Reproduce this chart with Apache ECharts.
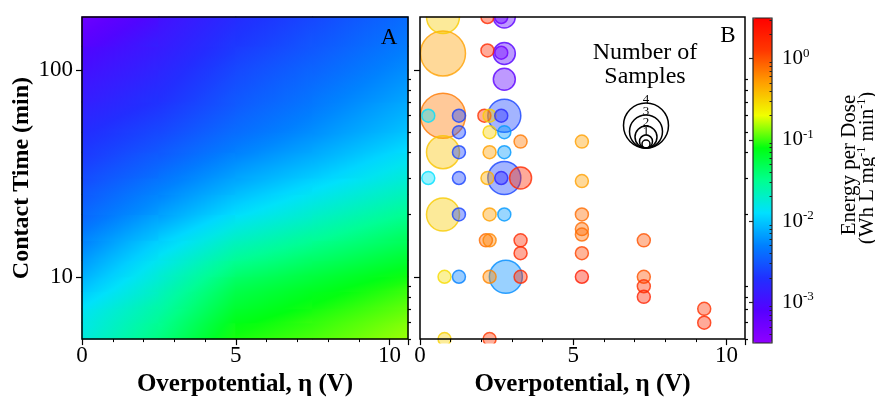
<!DOCTYPE html>
<html>
<head>
<meta charset="utf-8">
<script src="https://cdn.jsdelivr.net/npm/echarts@6/dist/echarts.min.js"></script>
</head>
<body style="margin:0">
<div id="main" style="width: 875px; height: 402px;"></div>
<script>
// panel A: log10(energy per dose) read at grid nodes, one row per contact time
var mapX = [0, 2.5, 5, 7.5, 10.6];
var mapT = [5, 6, 7, 8.5, 10, 12, 15, 20, 25, 30, 40, 50, 70, 100, 130, 180];
var mapE = [
    [-1.78, -1.45, -1.06, -0.98, -0.84],
    [-1.82, -1.52, -1.12, -1.02, -0.89],
    [-1.87, -1.58, -1.20, -1.07, -0.94],
    [-2.00, -1.67, -1.28, -1.15, -1.00],
    [-2.10, -1.75, -1.38, -1.24, -1.08],
    [-2.20, -1.84, -1.52, -1.36, -1.20],
    [-2.30, -1.98, -1.68, -1.52, -1.33],
    [-2.42, -2.18, -1.90, -1.72, -1.50],
    [-2.50, -2.28, -2.05, -1.85, -1.65],
    [-2.57, -2.37, -2.15, -1.98, -1.75],
    [-2.66, -2.50, -2.30, -2.14, -1.90],
    [-2.73, -2.58, -2.40, -2.24, -2.02],
    [-2.85, -2.70, -2.50, -2.35, -2.13],
    [-2.98, -2.80, -2.58, -2.44, -2.25],
    [-3.08, -2.88, -2.66, -2.51, -2.32],
    [-3.30, -2.98, -2.74, -2.58, -2.40]
];

// panel B: samples (overpotential V, contact time min, log10 energy, number of samples)
var ptX = [0.75, 2.2, 2.75, 2.65, 0.75, 2.2, 2.75, 2.65, 2.75, 0.75, 0.27, 1.27, 2.1, 2.27, 2.75, 2.65,
           1.27, 2.27, 2.75, 3.28, 5.28, 0.75, 1.27, 2.27, 2.75, 0.27, 1.27, 2.2, 2.75, 2.65, 3.28, 5.28,
           0.75, 1.27, 2.27, 2.75, 5.28, 5.28, 5.28, 2.15, 2.27, 3.28, 7.3, 3.28, 5.28, 0.8,
           1.27, 2.27, 2.8, 3.28, 5.28, 7.3, 7.3, 7.3, 9.27, 9.27, 0.8, 2.27];
var ptT = [180, 180, 180, 180, 120, 124, 120, 121, 90, 60, 60, 60, 60, 60, 60, 60,
           50, 50, 50, 45, 45, 40, 40, 40, 40, 30, 30, 30, 30, 30, 30, 29,
           20, 20, 20, 20, 20, 17, 16, 15, 15, 15, 15, 13, 13, 10,
           10, 10, 10, 10, 10, 10, 9, 8, 7, 6, 5, 5];
var ptE = [-0.48, 0.2, -3.15, -3.25, -0.3, 0.2, -3.1, -3.3, -3.15, -0.15, -1.9, -2.6, 0.15, -0.5, -2.6, -2.75,
           -2.6, -0.5, -2.2, -0.15, -0.3, -0.45, -2.6, -0.3, -2.2, -1.9, -2.6, -0.35, -2.6, -2.8, 0.2, -0.3,
           -0.48, -2.6, -0.3, -2.2, -0.1, -0.1, -0.1, -0.1, -0.2, 0.2, 0.0, 0.2, 0.05, -0.55,
           -2.3, -0.2, -2.25, 0.2, 0.3, 0.0, 0.15, 0.25, 0.15, 0.2, -0.5, 0.1];
var ptN = [3, 1, 2, 1, 4, 1, 2, 1, 2, 4, 1, 1, 1, 1, 3, 1,
           1, 1, 1, 1, 1, 3, 1, 1, 1, 1, 1, 1, 3, 1, 2, 1,
           3, 1, 1, 1, 1, 1, 1, 1, 1, 1, 1, 1, 1, 1,
           1, 1, 3, 1, 1, 1, 1, 1, 1, 1, 1, 1];

var xTicks = [0, 5, 10];
var tTicks = [10, 100];
var tMinor = [5, 6, 7, 8, 9, 20, 30, 40, 50, 60, 70, 80, 90];
var cbTicks = [-3, -2, -1, 0];
var legendLabels = ['4', '3', '2', '1', ''];

var E_MIN = -3.5, E_MAX = 0.5;
var X_MAX = 10.6, T_MIN = 5, T_MAX = 180;
var COLORS = ['#9000ff', '#5500ff', '#2030ff', '#0080ff', '#00e0ff', '#00ff90',
              '#00ff10', '#f0ff00', '#ffa000', '#ff3800', '#ff0000'];
var SIZE = {1: 13, 2: 22, 3: 33, 4: 45};
var LEGEND_SIZE = [45, 33, 22, 13, 8];
var FONT = 'Liberation Serif';

function hexRgb(h) {
    return [parseInt(h.slice(1, 3), 16), parseInt(h.slice(3, 5), 16), parseInt(h.slice(5, 7), 16)];
}
function cmap(v, a) {
    var f = (v - E_MIN) / (E_MAX - E_MIN) * (COLORS.length - 1);
    f = Math.max(0, Math.min(COLORS.length - 1, f));
    var i = Math.min(Math.floor(f), COLORS.length - 2), k = f - i;
    var c0 = hexRgb(COLORS[i]), c1 = hexRgb(COLORS[i + 1]);
    var c = c0.map(function (x, n) { return Math.round(x + (c1[n] - x) * k); });
    return 'rgba(' + c.join(',') + ',' + (a == null ? 1 : a) + ')';
}

var chartDom = document.getElementById('main');
var myChart = echarts.init(chartDom);

var bubbles = ptX.map(function (x, i) {
    return {
        value: [x, ptT[i], ptE[i], ptN[i]],
        itemStyle: {color: cmap(ptE[i], 0.5), borderColor: cmap(ptE[i]), borderWidth: 1.5}
    };
});
bubbles.sort(function (a, b) { return b.value[3] - a.value[3]; });

// one item per cell between grid nodes
var cells = [];
for (var j = 0; j < mapT.length - 1; j++) {
    for (var i = 0; i < mapX.length - 1; i++) {
        cells.push([mapX[i], mapT[j], i, j]);
    }
}

// shade a cell with a linear gradient following the slope of its four corner values
function renderCell(params, api) {
    var i = api.value(2), j = api.value(3);
    var tl = api.coord([mapX[i], mapT[j + 1]]);
    var br = api.coord([mapX[i + 1], mapT[j]]);
    var w = br[0] - tl[0], h = br[1] - tl[1];
    var vTL = mapE[j + 1][i], vTR = mapE[j + 1][i + 1];
    var vBL = mapE[j][i], vBR = mapE[j][i + 1];
    var gx = ((vTR - vTL) + (vBR - vBL)) / (2 * w);
    var gy = ((vBL - vTL) + (vBR - vTR)) / (2 * h);
    var g = Math.sqrt(gx * gx + gy * gy) || 1e-9;
    var ux = gx / g, uy = gy / g;
    var half = (Math.abs(ux) * w + Math.abs(uy) * h) / 2;
    var cx = tl[0] + w / 2, cy = tl[1] + h / 2;
    var vc = (vTL + vTR + vBL + vBR) / 4;
    var v0 = vc - g * half, v1 = vc + g * half;
    var stops = [0, 0.25, 0.5, 0.75, 1].map(function (o) {
        return {offset: o, color: cmap(v0 + (v1 - v0) * o)};
    });
    return {
        type: 'rect',
        shape: {x: tl[0] - 0.5, y: tl[1] - 0.5, width: w + 1, height: h + 1},
        style: {fill: new echarts.graphic.LinearGradient(
            cx - ux * half, cy - uy * half, cx + ux * half, cy + uy * half, stops, true)}
    };
}

function xAxisFor(grid) {
    return {
        gridIndex: grid, type: 'value', min: 0, max: X_MAX, interval: 5, z: 6,
        name: 'Overpotential, η (V)', nameLocation: 'middle', nameGap: 31,
        nameTextStyle: {fontFamily: FONT, fontSize: 25, fontWeight: 'bold', color: '#000'},
        axisLine: {show: false},
        axisTick: {show: true, length: 6, lineStyle: {color: '#000', width: 1.2}},
        minorTick: {show: true, splitNumber: 5, length: 3, lineStyle: {color: '#000', width: 1}},
        splitLine: {show: false},
        axisLabel: {fontFamily: FONT, fontSize: 23, color: '#000', margin: 5, customValues: xTicks}
    };
}
function tAxisFor(grid, major) {
    return {
        gridIndex: grid, type: 'log', logBase: 10, min: T_MIN, max: T_MAX, z: 6,
        axisLine: {show: false},
        splitLine: {show: false},
        axisTick: {show: true, length: major ? 6 : 3, customValues: major ? tTicks : tMinor,
            lineStyle: {color: '#000', width: 1.2}},
        axisLabel: {show: major && grid === 0, customValues: tTicks,
            fontFamily: FONT, fontSize: 23, color: '#000', margin: 9}
    };
}

var option = {
    animation: false,
    backgroundColor: '#fff',
    grid: [
        {left: 82, top: 17, width: 326, height: 326, show: true, z: 5,
            borderColor: '#000', borderWidth: 1.5, backgroundColor: 'transparent'},
        {left: 420, top: 17, width: 325, height: 326, show: true, z: 5,
            borderColor: '#000', borderWidth: 1.5, backgroundColor: 'transparent'},
        {left: 753, top: 18, width: 19, height: 325, show: true, z: 5,
            borderColor: '#222', borderWidth: 1.2, backgroundColor: 'transparent'}
    ],
    xAxis: [
        xAxisFor(0),
        xAxisFor(1),
        {gridIndex: 2, type: 'value', min: 0, max: 1, show: false}
    ],
    yAxis: [
        Object.assign(tAxisFor(0, true), {
            name: 'Contact Time (min)', nameLocation: 'middle', nameGap: 48,
            nameTextStyle: {fontFamily: FONT, fontSize: 24, fontWeight: 'bold', color: '#000'}
        }),
        tAxisFor(0, false),
        tAxisFor(1, true),
        tAxisFor(1, false),
        {
            gridIndex: 2, type: 'value', min: E_MIN, max: E_MAX, position: 'right', z: 6,
            axisLine: {show: false}, splitLine: {show: false},
            axisTick: {show: true, inside: true, length: 4, customValues: cbTicks,
                lineStyle: {color: '#222', width: 1.2}},
            axisLabel: {
                customValues: cbTicks, margin: 10, color: '#000',
                formatter: function (v) { return '{b|10}{s|' + v + '}'; },
                rich: {
                    b: {fontFamily: FONT, fontSize: 21, lineHeight: 24, color: '#000'},
                    s: {fontFamily: FONT, fontSize: 13, verticalAlign: 'top', color: '#000'}
                }
            }
        },
        {
            gridIndex: 2, type: 'value', min: E_MIN, max: E_MAX, position: 'right', z: 6,
            axisLine: {show: false}, splitLine: {show: false}, axisLabel: {show: false},
            axisTick: {show: true, inside: true, length: 2.5,
                customValues: [-4, -3, -2, -1, 0].reduce(function (acc, d) {
                    [2, 3, 4, 5, 6, 7, 8, 9].forEach(function (m) {
                        var v = d + Math.log10(m);
                        if (v > E_MIN && v < E_MAX) acc.push(v);
                    });
                    return acc;
                }, []),
                lineStyle: {color: '#222', width: 1}}
        }
    ],
    visualMap: {
        type: 'continuous', min: E_MIN, max: E_MAX, seriesIndex: 0, dimension: 0,
        left: 753, top: 18, itemWidth: 19, itemHeight: 325, padding: 0,
        calculable: false, hoverLink: false,
        inRange: {color: COLORS}
    },
    graphic: [
        // white strips so bubbles on the frame are cut like in the plot
        {type: 'rect', z: 3, shape: {x: 419, y: 0, width: 328, height: 16.5}, style: {fill: '#fff'}},
        {type: 'rect', z: 3, shape: {x: 419, y: 343.5, width: 328, height: 12}, style: {fill: '#fff'}},
        {type: 'text', z: 10, x: 389, y: 38, style: {text: 'A', fontFamily: FONT, fontSize: 23,
            align: 'center', verticalAlign: 'middle', fill: '#000'}},
        {type: 'text', z: 10, x: 728, y: 36, style: {text: 'B', fontFamily: FONT, fontSize: 23,
            align: 'center', verticalAlign: 'middle', fill: '#000'}},
        {type: 'text', z: 10, x: 645, y: 53, style: {text: 'Number of', fontFamily: FONT, fontSize: 24,
            align: 'center', verticalAlign: 'middle', fill: '#000'}},
        {type: 'text', z: 10, x: 645, y: 77, style: {text: 'Samples', fontFamily: FONT, fontSize: 24,
            align: 'center', verticalAlign: 'middle', fill: '#000'}},
        {type: 'text', z: 10, x: 849, y: 165, rotation: Math.PI / 2, style: {text: 'Energy per Dose',
            fontFamily: FONT, fontSize: 21, align: 'center', verticalAlign: 'middle', fill: '#000'}},
        {type: 'text', z: 10, x: 867, y: 168, rotation: Math.PI / 2, style: {
            text: '{a|(Wh L mg}{s|-1}{a| min}{s|-1}{a|)}', align: 'center', verticalAlign: 'middle',
            rich: {
                a: {fontFamily: FONT, fontSize: 21, lineHeight: 22, fill: '#000'},
                s: {fontFamily: FONT, fontSize: 12, verticalAlign: 'top', fill: '#000'}
            }}}
    ].concat(LEGEND_SIZE.map(function (d, i) {
        return {type: 'group', z: 10, children: [
            {type: 'circle', shape: {cx: 646, cy: 148 - d / 2, r: d / 2},
                style: {fill: 'none', stroke: '#000', lineWidth: 1.5}},
            {type: 'text', x: 646, y: 148 - d - 3, style: {text: legendLabels[i], fontFamily: FONT,
                fontSize: 13, align: 'center', verticalAlign: 'middle', fill: '#000'}}
        ]};
    })),
    series: [
        {
            type: 'custom', xAxisIndex: 0, yAxisIndex: 0,
            data: cells,
            encode: {x: 0, y: 1},
            renderItem: renderCell,
            silent: true, z: 1
        },
        {
            type: 'scatter', xAxisIndex: 1, yAxisIndex: 2,
            data: bubbles,
            symbolSize: function (val) { return SIZE[val[3]]; },
            z: 2
        }
    ]
};

myChart.setOption(option);
</script>
</body>
</html>
